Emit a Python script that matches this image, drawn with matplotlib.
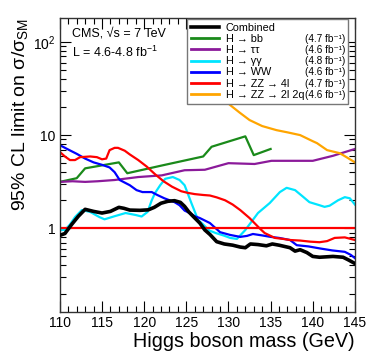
import matplotlib
matplotlib.use('Agg')
import matplotlib.pyplot as plt
from matplotlib.lines import Line2D
from matplotlib.ticker import FixedLocator, LogLocator, FuncFormatter, MultipleLocator

plt.rcParams['font.family'] = ['Liberation Sans', 'DejaVu Sans']
plt.rcParams['mathtext.fontset'] = 'custom'
plt.rcParams['mathtext.rm'] = 'Liberation Sans'
plt.rcParams['mathtext.default'] = 'regular'

# 95% CL limits on sigma/sigma_SM
m_comb = [110, 110.6, 111.4, 112.2, 113, 114, 115, 116, 117, 117.6, 118.3, 119.5, 120.5,
          121.2, 122, 122.8, 123.6, 124.3, 124.8, 125.3, 125.9, 126.6, 127.2, 127.8, 128.6,
          129.5, 130.5, 131.4, 132, 132.6, 133.5, 134.5, 135.2, 136, 137.3, 137.9, 138.5,
          139.3, 140, 140.8, 142.4, 143.6, 144.2, 145]
v_comb = [0.84, 0.88, 1.1, 1.35, 1.6, 1.52, 1.46, 1.52, 1.68, 1.64, 1.57, 1.56, 1.58,
          1.68, 1.86, 1.95, 1.98, 1.9, 1.72, 1.5, 1.32, 1.14, 0.96, 0.86, 0.72,
          0.68, 0.66, 0.63, 0.62, 0.68, 0.67, 0.65, 0.68, 0.66, 0.62, 0.57, 0.59,
          0.55, 0.5, 0.49, 0.5, 0.49, 0.46, 0.42]

m_bb = [110, 112, 113, 117, 118, 122, 127, 128, 132, 133, 135]
v_bb = [3.15, 3.45, 4.4, 5.1, 3.9, 4.7, 5.9, 7.5, 9.7, 6.1, 7.1]

m_tautau = [110, 111.5, 113, 114.5, 116.5, 119.3, 122.1, 124.8, 127.2, 130, 133.1, 135.1,
            140, 142.4, 145]
v_tautau = [3.15, 3.2, 3.15, 3.2, 3.3, 3.55, 3.7, 4.2, 4.25, 5.0, 4.9, 5.3,
            5.3, 6.0, 7.1]

m_gg = [110, 110.6, 111.2, 111.8, 112.6, 113.6, 114.7, 115.3, 116.5, 117.8, 119, 119.7,
        120.4, 120.9, 121.3, 121.9, 122.5, 123.4, 124.2, 124.8, 125.6, 126.4, 127, 127.7,
        128.5, 129.4, 130.2, 131, 132, 132.8, 133.5, 134.9, 136.1, 136.9, 137.9, 138.8,
        139.6, 140.8, 141.4, 142, 143, 143.8, 144.4, 145]
v_gg = [0.96, 0.96, 1.1, 1.32, 1.57, 1.5, 1.32, 1.25, 1.35, 1.46, 1.39, 1.34,
        1.5, 2.0, 2.4, 2.9, 3.4, 3.55, 3.3, 2.9, 1.87, 1.23, 1.1, 0.95,
        0.89, 0.84, 0.79, 0.77, 0.96, 1.2, 1.46, 1.87, 2.45, 2.72, 2.57, 2.2,
        1.91, 1.77, 1.7, 1.75, 2.0, 2.16, 2.1, 1.8]

m_ww = [110, 111, 112, 113, 114, 115, 115.9, 116.5, 117.1, 118.3, 119.1, 119.8, 120.9,
        121.6, 122.4, 123.6, 124.2, 124.8, 125.4, 126, 126.6, 127.8, 129, 130.2, 131.4,
        132.2, 132.9, 134, 135, 136, 137.3, 138.1, 139.5, 140.8, 142.3, 143.8, 144.5, 145]
v_ww = [7.8, 7.0, 6.3, 5.6, 5.1, 4.8, 4.5, 4.0, 3.3, 2.9, 2.57, 2.45, 2.45,
        2.27, 2.1, 1.91, 1.77, 1.55, 1.46, 1.35, 1.29, 1.14, 0.91, 0.85, 0.81,
        0.83, 0.87, 0.84, 0.81, 0.79, 0.75, 0.66, 0.64, 0.61, 0.58, 0.56, 0.52, 0.48]

m_zz4l = [110, 110.6, 111.2, 111.8, 112.4, 113.6, 114.4, 115.0, 115.5, 115.9, 116.5, 116.9,
          117.7, 118.3, 119.3, 120.3, 121.3, 122.3, 123.3, 124.4, 125.2, 126, 127, 127.8,
          128.6, 129.6, 130.5, 131.4, 132.5, 133.7, 134.3, 135.5, 136.5, 137.3, 138.5,
          139.7, 140.8, 141.7, 142.6, 143.8, 145]
v_zz4l = [6.6, 5.9, 5.4, 5.4, 5.8, 5.9, 5.8, 5.5, 5.6, 6.9, 7.3, 7.3,
          6.8, 6.2, 5.4, 4.6, 3.8, 3.2, 2.8, 2.5, 2.4, 2.33, 2.28, 2.25,
          2.15, 2.0, 1.8, 1.57, 1.29, 1.0, 0.89, 0.79, 0.77, 0.75, 0.74,
          0.72, 0.71, 0.73, 0.79, 0.8, 0.75]

m_zz2l2q = [129.5, 130.2, 131.3, 132.5, 134, 135.7, 137, 138.5, 140, 140.5, 141.7, 143.2, 144, 145]
v_zz2l2q = [24, 21, 17.5, 14.5, 12.5, 11.3, 10.7, 10, 8.6, 8.2, 6.9, 6.4, 5.8, 5.1]

names = ['Combined', 'H \u2192 bb', 'H \u2192 \u03c4\u03c4', 'H \u2192 \u03b3\u03b3',
         'H \u2192 WW', 'H \u2192 ZZ \u2192 4l', 'H \u2192 ZZ \u2192 2l 2q']
lumis = ['', '(4.7 fb\u207b\u00b9)', '(4.6 fb\u207b\u00b9)', '(4.8 fb\u207b\u00b9)',
         '(4.6 fb\u207b\u00b9)', '(4.7 fb\u207b\u00b9)', '(4.6 fb\u207b\u00b9)']
colors = ['black', '#1a8a1a', '#8b1a9a', '#00e5ff', '#0000ff', '#ff0000', '#ffa500']

fig = plt.figure(figsize=(3.74, 3.59), dpi=100)
ax = fig.add_axes([0.160, 0.132, 0.789, 0.819])

series = [(m_bb, v_bb), (m_tautau, v_tautau), (m_gg, v_gg), (m_ww, v_ww),
          (m_zz4l, v_zz4l), (m_zz2l2q, v_zz2l2q)]
for (mx, vy), c in zip(series, colors[1:]):
    ax.plot(mx, vy, color=c, lw=1.6, zorder=2)
ax.axhline(1.0, color='#ff0000', lw=1.6, zorder=2)
ax.plot(m_comb, v_comb, color='black', lw=2.6, zorder=3)

ax.set_yscale('log')
ax.set_xlim(110, 145)
ax.set_ylim(0.128, 182)

ax.xaxis.set_major_locator(MultipleLocator(5))
ax.xaxis.set_minor_locator(MultipleLocator(1))
ax.yaxis.set_major_locator(FixedLocator([1, 10, 100]))
ax.yaxis.set_minor_locator(LogLocator(base=10, subs=range(2, 10)))
ax.yaxis.set_major_formatter(FuncFormatter(
    lambda v, p: {1: '1', 10: '10', 100: '$10^{2}$'}.get(round(v), '')))
ax.tick_params(which='both', direction='in', top=True, right=True, labelsize=10)
ax.tick_params(which='major', length=8, width=0.8)
ax.tick_params(which='minor', length=4, width=0.8)
ax.tick_params(axis='x', pad=3.5)
ax.tick_params(axis='y', pad=3)
for s in ax.spines.values():
    s.set_linewidth(1.0)
    s.set_color('#333333')

ax.set_xlabel('Higgs boson mass (GeV)', fontsize=14.2, loc='right')
ax.xaxis.set_label_coords(1.0, -0.068)
ax.set_ylabel('95% CL limit on \u03c3/\u03c3$_{SM}$', fontsize=14, loc='top')
ax.yaxis.set_label_coords(-0.10, 1.0)

ax.text(0.041, 0.947, 'CMS, \u221as = 7 TeV', transform=ax.transAxes, fontsize=9, va='center')
ax.text(0.041, 0.882, 'L = 4.6-4.8 fb$^{-1}$', transform=ax.transAxes, fontsize=9, va='center')

handles = [Line2D([], [], color=c, lw=2.6 if i == 0 else 2.0) for i, c in enumerate(colors)]
leg = ax.legend(handles, names, loc='upper left', bbox_to_anchor=(0.43, 0, 0.546, 0.996),
                mode='expand', borderaxespad=0, fontsize=7.8, labelspacing=0.1,
                handlelength=2.6, handletextpad=0.6, borderpad=0.4,
                frameon=True, fancybox=False, edgecolor='#777777', framealpha=1)
leg.get_frame().set_linewidth(1.0)
leg.set_zorder(5)
for t, lum in zip(leg.get_texts(), lumis):
    if lum:
        ax.annotate(lum, xy=(1, 0.5), xycoords=(leg, t), xytext=(-2, 0),
                    textcoords='offset points', ha='right', va='center',
                    fontsize=7.2, zorder=6)

plt.savefig('out.png', dpi=100)
plt.close()
